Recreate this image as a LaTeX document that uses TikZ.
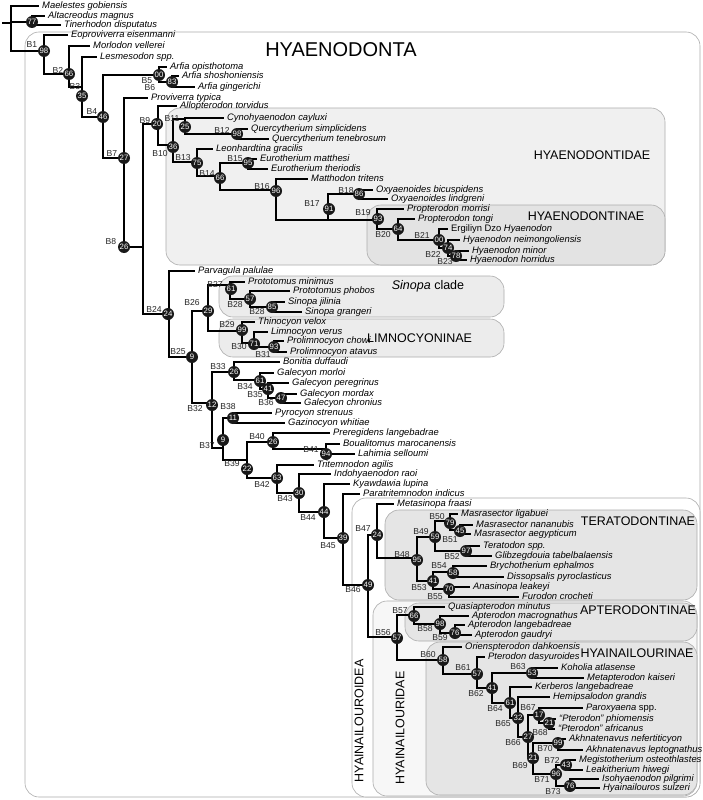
\documentclass[tikz,border=0pt]{standalone}
\usepackage{fontspec}
\setmainfont{Liberation Sans}
\usetikzlibrary{positioning}

\tikzset{
  br/.style={line width=1.7pt, black},
  bs/.style={circle, fill=black!90, text=white, inner sep=0pt, minimum size=12pt,
    font=\fontsize{7.8}{8}\selectfont},
  blab/.style={font=\fontsize{8.6}{9}\selectfont, text=black!85, inner sep=0pt},
  tx/.style={anchor=west, inner xsep=3pt, inner ysep=0pt, text height=6.5pt, text depth=2pt,
    font=\fontsize{9.4}{9.4}\selectfont\itshape},
  grp/.style={rounded corners=14pt, draw=gray!65, line width=0.6pt},
  grpname/.style={font=\fontsize{12.5}{12.5}\selectfont, inner sep=0pt},
}

% clade: name/junction x/y/circle x/y/support/label x/y/label
\def\clades{1/44/51/44/51/98/32/45/B1, 2/69/74/69/74/66/58/70/B2, 3/82/87/82/96/35/75/87/B3,
 4/103/117/103/117/46/92/112/B4, 5/159/75/159/75/00/147/81/B5, 6/172/82/172/82/83/150/88/B6,
 7/124/158/124/158/27/112/154/B7, 8/143/247/124/247/26/111/242/B8, 9/158/124/157/124/20/145/121/B9,
 10/173/145/173/147/36/160/154/B10, 11/185/119/185/127/25/172/119/B11, 12/238/134/237/134/98/222/130/B12,
 13/197/162/197/163/75/183/158/B13, 14/220/176/220/178/66/207/174/B14, 15/248/163/248/163/95/235/159/B15,
 16/276/190/276/191/96/262/187/B16, 17/328/220/329/209/91/312/204/B17, 18/361/194/359/194/86/346/191/B18,
 19/377/220/378/219/93/363/213/B19, 20/398/229/398/229/64/383/235/B20, 21/439/240/439/240/00/422/235/B21,
 22/448/248/448/248/74/433/254/B22, 23/456/256/456/256/78/445/262/B23, 24/169/314/168/314/24/154/309/B24,
 25/192/357/192/357/9/178/352/B25, 26/208/311/208/311/29/192/303/B26, 27/230/285/231/289/61/215/284/B27,
 28/250/299/250/299/57/235/305/B28, 28b/272/307/272/307/85/257/312/B28, 29/242/331/242/330/99/227/325/B29,
 30/254/343/254/344/71/239/347/B30, 31/274/347/274/347/93/263/355/B31, 32/212/403/212/405/12/195/409/B32,
 33/234/372/234/372/26/218/367/B33, 34/260/380/260/381/61/245/387/B34, 35/268/389/268/389/41/255/395/B35,
 36/281/398/281/398/47/266/403/B36, 37/223/448/223/440/9/207/446/B37, 38/233/418/233/418/11/228/407/B38,
 39/247/460/247/469/22/232/464/B39, 40/273/442/273/442/26/257/437/B40, 41/326/449/326/454/94/311/450/B41,
 42/277/478/277/478/63/262/484/B42, 43/299/493/299/493/30/285/499/B43, 44/324/512/324/512/44/308/518/B44,
 45/343/538/343/538/39/328/546/B45, 46/368/585/368/585/49/353/590/B46, 47/377/535/377/535/24/363/529/B47,
 48/417/558/417/560/95/402/555/B48, 49/435/537/435/537/59/421/532/B49, 50/450/521/450/523/79/437/517/B50,
 51/460/530/460/531/45/450/540/B51, 52/466/551/466/551/97/452/557/B52, 53/433/581/433/581/41/419/588/B53,
 54/453/572/453/573/58/439/566/B54, 55/449/589/449/589/70/435/597/B55, 56/397/637/397/638/57/383/633/B56,
 57/414/615/414/616/66/400/611/B57, 58/440/624/440/624/98/425/629/B58, 59/455/633/455/633/76/440/638/B59,
 60/443/660/443/660/58/428/655/B60, 61/477/674/477/674/57/463/668/B61, 62/492/688/492/688/41/476/694/B62,
 63/532/673/532/673/53/518/667/B63, 64/510/703/510/703/61/495/709/B64, 65/518/718/518/718/32/503/724/B65,
 66/528/737/528/737/27/513/743/B66, 67/539/715/539/715/17/528/708/B67, 68/549/723/549/723/21/540/733/B68,
 69/533/758/533/758/21/520/766/B69, 70/558/743/558/743/99/545/749/B70, 71/556/774/556/774/96/542/780/B71,
 72/566/765/566/765/43/552/760/B72, 73/570/786/570/786/76/553/792/B73}

\begin{document}
\begin{tikzpicture}[x=1pt,y=-1pt]
\useasboundingbox (0,0) rectangle (703,800);

% group boxes
\draw[grp, fill=white] (25,32) rectangle (700,797);
\draw[grp, fill=gray!12] (166,108) rectangle (665,265);
\draw[grp, fill=gray!22] (367,205) rectangle (665,265);
\draw[grp, fill=gray!15] (219,276) rectangle (504,317);
\draw[grp, fill=gray!15] (219,319) rectangle (504,357);
\draw[grp, fill=white] (352,498) rectangle (700,797);
\draw[grp, fill=gray!20] (385,510) rectangle (697,600);
\draw[grp, fill=gray!6] (373,601) rectangle (697,796);
\draw[grp, fill=gray!20] (405,603) rectangle (697,641);
\draw[grp, fill=gray!20] (426,642) rectangle (697,795);

\node[font=\fontsize{20}{20}\selectfont] (hyaenodonta) at (341,50) {HYAENODONTA};
\node[grpname] (hyaenodontidae) at (592,155) {HYAENODONTIDAE};
\node[grpname] (hyaenodontinae) at (586,216) {HYAENODONTINAE};
\node[grpname] (sinopa) at (428,286) {\itshape Sinopa\upshape{} clade};
\node[grpname, anchor=west] (limnocyoninae) at (367,338) {LIMNOCYONINAE};
\node[grpname] (teratodontinae) at (638,521) {TERATODONTINAE};
\node[grpname] (apterodontinae) at (638,610) {APTERODONTINAE};
\node[grpname] (hyainailourinae) at (637,653) {HYAINAILOURINAE};
\node[grpname, rotate=90] (hyainailouroidea) at (359,721) {HYAINAILOUROIDEA};
\node[grpname, rotate=90] (hyainailouridae) at (400,728) {HYAINAILOURIDAE};

% taxa
\node[tx] (t1) at (39,6) {Maelestes gobiensis};
\node[tx] (t2) at (45,16) {Altacreodus magnus};
\node[tx] (t3) at (61,25) {Tinerhodon disputatus};
\node[tx] (t4) at (68,35) {Eoproviverra eisenmanni};
\node[tx] (t5) at (90,46) {Morlodon vellerei};
\node[tx] (t6) at (97,57) {Lesmesodon spp.};
\node[tx] (t7) at (167,67) {Arfia opisthotoma};
\node[tx] (t8) at (179,76) {Arfia shoshoniensis};
\node[tx] (t9) at (195,87) {Arfia gingerichi};
\node[tx] (t10) at (148,98) {Proviverra typica};
\node[tx] (t11) at (177,106) {Allopterodon torvidus};
\node[tx] (t12) at (224,118) {Cynohyaenodon cayluxi};
\node[tx] (t13) at (248,129) {Quercytherium simplicidens};
\node[tx] (t14) at (269,139) {Quercytherium tenebrosum};
\node[tx] (t15) at (213,149) {Leonhardtina gracilis};
\node[tx] (t16) at (257,159) {Eurotherium matthesi};
\node[tx] (t17) at (268,169) {Eurotherium theriodis};
\node[tx] (t18) at (308,179) {Matthodon tritens};
\node[tx] (t19) at (373,190) {Oxyaenoides bicuspidens};
\node[tx] (t20) at (388,199) {Oxyaenoides lindgreni};
\node[tx] (t21) at (404,209) {Propterodon morrisi};
\node[tx] (t22) at (415,219) {Propterodon tongi};
\node[tx] (t23) at (448,229) {{\upshape Ergiliyn Dzo} Hyaenodon};
\node[tx] (t24) at (460,240) {Hyaenodon neimongoliensis};
\node[tx] (t25) at (469,251) {Hyaenodon minor};
\node[tx] (t26) at (467,260) {Hyaenodon horridus};
\node[tx] (t27) at (195,271) {Parvagula palulae};
\node[tx] (t28) at (245,282) {Prototomus minimus};
\node[tx] (t29) at (290,291) {Prototomus phobos};
\node[tx] (t30) at (285,302) {Sinopa jilinia};
\node[tx] (t31) at (302,312) {Sinopa grangeri};
\node[tx] (t32) at (255,322) {Thinocyon velox};
\node[tx] (t33) at (268,332) {Limnocyon verus};
\node[tx] (t34) at (284,341) {Prolimnocyon chowi};
\node[tx] (t35) at (287,352) {Prolimnocyon atavus};
\node[tx] (t36) at (280,362) {Bonitia duffaudi};
\node[tx] (t37) at (274,373) {Galecyon morloi};
\node[tx] (t38) at (289,383) {Galecyon peregrinus};
\node[tx] (t39) at (297,394) {Galecyon mordax};
\node[tx] (t40) at (301,403) {Galecyon chronius};
\node[tx] (t41) at (272,413) {Pyrocyon strenuus};
\node[tx] (t42) at (285,423) {Gazinocyon whitiae};
\node[tx] (t43) at (330,433) {Preregidens langebadrae};
\node[tx] (t44) at (340,444) {Boualitomus marocanensis};
\node[tx] (t45) at (355,454) {Lahimia selloumi};
\node[tx] (t46) at (314,465) {Tritemnodon agilis};
\node[tx] (t47) at (331,474) {Indohyaenodon raoi};
\node[tx] (t48) at (350,484) {Kyawdawia lupina};
\node[tx] (t49) at (360,494) {Paratritemnodon indicus};
\node[tx] (t50) at (394,504) {Metasinopa fraasi};
\node[tx] (t51) at (458,514) {Masrasector ligabuei};
\node[tx] (t52) at (473,525) {Masrasector nananubis};
\node[tx] (t53) at (471,534) {Masrasector aegypticum};
\node[tx] (t54) at (480,546) {Teratodon spp.};
\node[tx] (t55) at (492,556) {Glibzegdouia tabelbalaensis};
\node[tx] (t56) at (487,566) {Brychotherium ephalmos};
\node[tx] (t57) at (504,577) {Dissopsalis pyroclasticus};
\node[tx] (t58) at (470,587) {Anasinopa leakeyi};
\node[tx] (t59) at (519,597) {Furodon crocheti};
\node[tx] (t60) at (445,607) {Quasiapterodon minutus};
\node[tx] (t61) at (469,616) {Apterodon macrognathus};
\node[tx] (t62) at (465,625) {Apterodon langebadreae};
\node[tx] (t63) at (472,635) {Apterodon gaudryi};
\node[tx] (t64) at (462,647) {Orienspterodon dahkoensis};
\node[tx] (t65) at (485,657) {Pterodon dasyuroides};
\node[tx] (t66) at (558,668) {Koholia atlasense};
\node[tx] (t67) at (584,678) {Metapterodon kaiseri};
\node[tx] (t68) at (532,687) {Kerberos langebadreae};
\node[tx] (t69) at (550,697) {Hemipsalodon grandis};
\node[tx] (t70) at (583,708) {Paroxyaena {\upshape spp.}};
\node[tx] (t71) at (556,719) {“Pterodon” phiomensis};
\node[tx] (t72) at (555,729) {“Pterodon” africanus};
\node[tx] (t73) at (566,739) {Akhnatenavus nefertiticyon};
\node[tx] (t74) at (583,750) {Akhnatenavus leptognathus};
\node[tx] (t75) at (576,760) {Megistotherium osteothlastes};
\node[tx] (t76) at (583,770) {Leakitherium hiwegi};
\node[tx] (t77) at (599,779) {Isohyaenodon pilgrimi};
\node[tx] (t78) at (600,788) {Hyainailouros sulzeri};

% junctions
\coordinate (stub) at (2,23);
\coordinate (root) at (11,23);
\coordinate (j77) at (32,22);
\foreach \n/\jx/\jy/\cx/\cy/\s/\lx/\ly/\b in \clades
  \coordinate (j\n) at (\jx,\jy);

% branches
\draw[br] (stub) -- (root);
\foreach \p/\c in {root/t1.west, root/j77, root/j1, j77/t2.west, j77/t3.west,
  j1/t4.west, j1/j2, j2/t5.west, j2/j3, j3/t6.west, j3/j4, j4/j5, j4/j7,
  j5/t7.west, j5/j6, j6/t8.west, j6/t9.west, j7/t10.west, j7/j8, j8/j9, j8/j24,
  j9/t11.west, j9/j10, j10/j11, j10/j13, j11/t12.west, j11/j12, j12/t13.west, j12/t14.west,
  j13/t15.west, j13/j14, j14/j15, j14/j16, j15/t16.west, j15/t17.west,
  j16/t18.west, j16/j17, j17/j18, j17/j19, j18/t19.west, j18/t20.west,
  j19/t21.west, j19/j20, j20/t22.west, j20/j21, j21/t23.west, j21/j22,
  j22/t24.west, j22/j23, j23/t25.west, j23/t26.west,
  j24/t27.west, j24/j25, j25/j26, j25/j32, j26/j27, j26/j29,
  j27/t28.west, j27/j28, j28/t29.west, j28/j28b, j28b/t30.west, j28b/t31.west,
  j29/t32.west, j29/j30, j30/t33.west, j30/j31, j31/t34.west, j31/t35.west,
  j32/j33, j32/j37, j33/t36.west, j33/j34, j34/t37.west, j34/j35,
  j35/t38.west, j35/j36, j36/t39.west, j36/t40.west,
  j37/j38, j37/j39, j38/t41.west, j38/t42.west, j39/j40, j39/j42,
  j40/t43.west, j40/j41, j41/t44.west, j41/t45.west,
  j42/t46.west, j42/j43, j43/t47.west, j43/j44, j44/t48.west, j44/j45,
  j45/t49.west, j45/j46, j46/j47, j46/j56, j47/t50.west, j47/j48,
  j48/j49, j48/j53, j49/j50, j49/j52, j50/t51.west, j50/j51,
  j51/t52.west, j51/t53.west, j52/t54.west, j52/t55.west,
  j53/j54, j53/j55, j54/t56.west, j54/t57.west, j55/t58.west, j55/t59.west,
  j56/j57, j56/j60, j57/t60.west, j57/j58, j58/t61.west, j58/j59,
  j59/t62.west, j59/t63.west, j60/t64.west, j60/j61, j61/t65.west, j61/j62,
  j62/j63, j62/j64, j63/t66.west, j63/t67.west, j64/t68.west, j64/j65,
  j65/t69.west, j65/j66, j66/j67, j66/j69, j67/t70.west, j67/j68,
  j68/t71.west, j68/t72.west, j69/j70, j69/j71, j70/t73.west, j70/t74.west,
  j71/j72, j71/j73, j72/t75.west, j72/t76.west, j73/t77.west, j73/t78.west}
  \draw[br] (\p) |- (\c);

% support values and branch numbers
\node[bs] (c77) at (j77) {77};
\foreach \n/\jx/\jy/\cx/\cy/\s/\lx/\ly/\b in \clades {
  \node[bs] (c\n) at (\cx,\cy) {\s};
  \node[blab] (b\n) at (\lx,\ly) {\b};
}
\end{tikzpicture}
\end{document}
